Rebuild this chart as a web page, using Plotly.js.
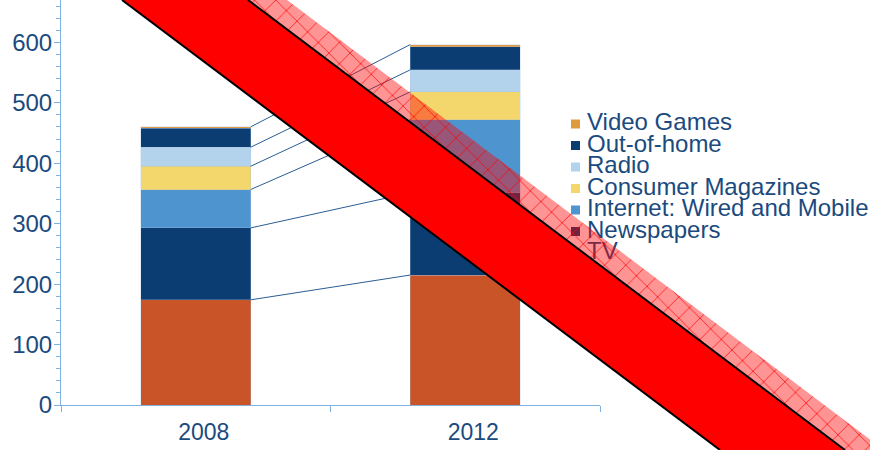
<!DOCTYPE html>
<html><head><meta charset="utf-8">
<script src="https://cdn.plot.ly/plotly-3.0.1.min.js"></script>
<style>
html,body{margin:0;padding:0;background:#fff;}
#wrap{position:relative;width:870px;height:450px;}
#chart,#band{position:absolute;left:0;top:0;width:870px;height:450px;}
#band{pointer-events:none;}
</style>
</head><body>
<div id="wrap"><div id="chart"></div><div id="band"></div></div>
<script>
// ---- data ----
const years = ['2008', '2012'];
const categories = ['TV', 'Newspapers', 'Internet: Wired and Mobile', 'Consumer Magazines', 'Radio', 'Out-of-home', 'Video Games'];
const tv = [174, 215];
const newspapers = [119, 136];
const internet = [63.5, 121];
const magazines = [38.5, 46];
const radio = [31.5, 36.5];
const outOfHome = [31, 38.5];
const videoGames = [2.7, 3.3];
const yTickVals = [0, 100, 200, 300, 400, 500, 600];

// ---- styles ----
const seriesValues = [tv, newspapers, internet, magazines, radio, outOfHome, videoGames];
const colors = ['#C85428', '#0B3D73', '#4E94CE', '#F3D66C', '#B3D2EC', '#0B3D73', '#E09A3E'];
const textColor = '#1B4A7E';
const axisColor = '#7FB2E0';
const FONT = 'Arial, "Liberation Sans", sans-serif';
const barWidth = 0.408;
const xPos = [0, 1];

const traces = [];
categories.forEach((name, i) => {
  traces.push({
    type: 'bar', name: name, x: xPos, y: seriesValues[i], width: barWidth,
    marker: {color: colors[i], line: {width: 0.5, color: 'rgba(170,195,225,0.6)'}},
    hoverinfo: 'skip'
  });
});

// connector lines between cumulative segment tops
const cum = [0, 0];
const levels = [];
categories.forEach((name, i) => {
  cum[0] += seriesValues[i][0];
  cum[1] += seriesValues[i][1];
  if (name !== 'Out-of-home') levels.push([cum[0], cum[1]]);
});
levels.forEach(l => {
  traces.push({
    type: 'scatter', mode: 'lines', x: [xPos[0] + barWidth / 2, xPos[1] - barWidth / 2], y: l,
    line: {color: '#2A5D94', width: 1}, hoverinfo: 'skip', showlegend: false
  });
});

// legend drawn as shapes + annotations (tight line spacing like the reference)
const plotL = 61, plotR = 600, plotB = 405;
const px2x = p => (p - plotL) / (plotR - plotL);
const py2y = p => (plotB - p) / plotB;
const shapes = [], annotations = [];
const legendOrder = categories.map((c, i) => i).reverse();
legendOrder.forEach((ci, k) => {
  const cy = 124 + 21.5 * k;
  shapes.push({type: 'rect', xref: 'paper', yref: 'paper',
    x0: px2x(571), x1: px2x(580), y0: py2y(cy + 4.5), y1: py2y(cy - 4.5),
    fillcolor: colors[ci], line: {width: 0}});
  annotations.push({xref: 'paper', yref: 'paper', x: px2x(585), y: py2y(cy - 2.5),
    xanchor: 'left', yanchor: 'middle', showarrow: false, text: categories[ci],
    font: {family: FONT, size: 24, color: textColor}});
});

const layout = {
  width: 870, height: 450,
  margin: {l: plotL, r: 870 - plotR, t: 0, b: 450 - plotB},
  paper_bgcolor: '#fff', plot_bgcolor: '#fff',
  barmode: 'stack', showlegend: false,
  font: {family: FONT, color: textColor},
  xaxis: {
    range: [-0.5, 1.5], tickmode: 'array', tickvals: xPos, ticktext: years,
    ticks: '', showline: true, linecolor: axisColor, linewidth: 1,
    showgrid: false, zeroline: false,
    ticklabelshift: 8, ticklabelstandoff: 6,
    tickfont: {family: FONT, size: 23, color: textColor},
    minor: {tickmode: 'array', tickvals: [-0.5, 0.5, 1.5], ticks: 'outside', ticklen: 6, tickcolor: axisColor, showgrid: false}
  },
  yaxis: {
    range: [0, 670], tickmode: 'array', tickvals: yTickVals,
    ticks: 'outside', ticklen: 6, tickcolor: axisColor, tickwidth: 1,
    showline: true, linecolor: axisColor, linewidth: 1,
    showgrid: false, zeroline: false,
    ticklabelstandoff: -3,
    tickfont: {family: FONT, size: 24, color: textColor},
    minor: {tickmode: 'linear', tick0: 0, dtick: 20, ticks: 'outside', ticklen: 4, tickcolor: axisColor, showgrid: false}
  },
  shapes: shapes, annotations: annotations
};

Plotly.newPlot('chart', traces, layout, {staticPlot: true, displayModeBar: false});

// ---- diagonal "stamp" band overlay (decoration, pixel space) ----
const bandSolidX = [122, 248, 845, 720];
const bandSolidY = [0, 0, 450, 450];
const bandHatchX = [248, 287, 884, 845];
const bandHatchY = [0, 0, 450, 450];
const bandTraces = [
  {type: 'scatter', mode: 'lines', x: bandHatchX, y: bandHatchY, fill: 'toself',
   fillcolor: 'rgba(255,0,0,0.42)', line: {width: 0, color: 'rgba(0,0,0,0)'},
   fillpattern: {shape: 'x', size: 15, solidity: 0.1, fgcolor: '#ff0000', fgopacity: 0.9, bgcolor: 'rgba(255,0,0,0.42)'},
   hoverinfo: 'skip'},
  {type: 'scatter', mode: 'lines', x: bandSolidX, y: bandSolidY, fill: 'toself',
   fillcolor: '#ff0000', line: {width: 0, color: 'rgba(0,0,0,0)'}, hoverinfo: 'skip'},
  {type: 'scatter', mode: 'lines', x: [bandSolidX[0], bandSolidX[3]], y: [bandSolidY[0], bandSolidY[3]],
   line: {color: '#000', width: 2}, hoverinfo: 'skip'},
  {type: 'scatter', mode: 'lines', x: [bandSolidX[1], bandSolidX[2]], y: [bandSolidY[1], bandSolidY[2]],
   line: {color: '#000', width: 2}, hoverinfo: 'skip'}
];
const bandLayout = {
  width: 870, height: 450, margin: {l: 0, r: 0, t: 0, b: 0},
  paper_bgcolor: 'rgba(0,0,0,0)', plot_bgcolor: 'rgba(0,0,0,0)', showlegend: false,
  xaxis: {range: [0, 870], visible: false, fixedrange: true},
  yaxis: {range: [450, 0], visible: false, fixedrange: true}
};
Plotly.newPlot('band', bandTraces, bandLayout, {staticPlot: true, displayModeBar: false});
</script>
</body></html>
